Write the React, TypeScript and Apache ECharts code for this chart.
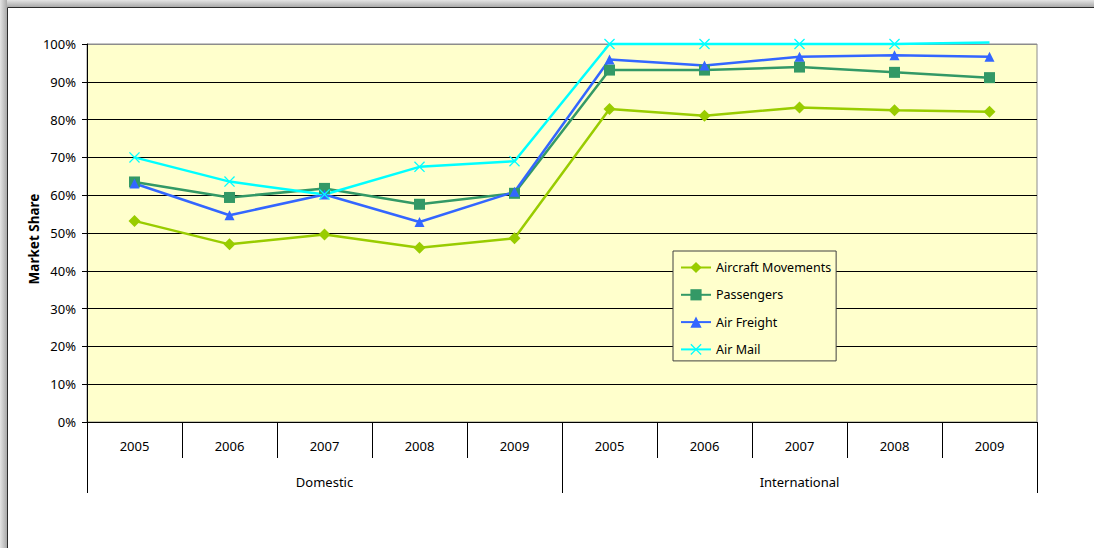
import React, { useEffect, useRef } from "react";
import * as echarts from "echarts";

const years = ["2005", "2006", "2007", "2008", "2009"];
const groups = ["Domestic", "International"];
const seriesNames = ["Aircraft Movements", "Passengers", "Air Freight", "Air Mail"];
const aircraftMovements = [53.2, 47.0, 49.6, 46.1, 48.6, 82.8, 81.0, 83.2, 82.5, 82.1];
const passengers = [63.5, 59.4, 61.8, 57.6, 60.5, 93.1, 93.1, 93.9, 92.5, 91.1];
const airFreight = [63.1, 54.7, 60.2, 52.9, 60.9, 95.9, 94.3, 96.6, 97.0, 96.6];
const airMail = [70.0, 63.6, 60.2, 67.5, 69.0, 100, 100, 100, 100, 100.4];
const hiddenMarkerIndex = 9; // Air Mail 2009 International marker falls outside plot
const yTicks = [0, 10, 20, 30, 40, 50, 60, 70, 80, 90, 100];

const FONT = "'Noto Sans', 'Open Sans', sans-serif";
const crossPath =
  "path://M0,1 L1,0 L6,5 L11,0 L12,1 L7,6 L12,11 L11,12 L6,7 L1,12 L0,11 L5,6 Z";

export default function App() {
  const ref = useRef<HTMLDivElement>(null);
  useEffect(() => {
    if (!ref.current) return;
    const chart = echarts.init(ref.current, null, { renderer: "svg" });
    const catKeys: string[] = [];
    groups.forEach((g) => years.forEach((y) => catKeys.push(g + "|" + y)));
    const splitColors = yTicks.map((t) => (t === 100 ? "#8c8c8c" : "#000000"));
    const mk = (name: string, data: any[], color: string, symbol: string, size: number) => ({
      name,
      type: "line",
      data,
      symbol,
      symbolSize: size,
      symbolKeepAspect: true,
      clip: false,
      lineStyle: { color, width: 2.5 },
      itemStyle: { color, borderWidth: 0 },
      emphasis: { disabled: true },
    });
    const option: any = {
      animation: false,
      backgroundColor: "#ffffff",
      textStyle: { fontFamily: FONT },
      graphic: [
        {
          type: "rect",
          shape: { x: 0, y: 0, width: 1094, height: 7 },
          style: {
            fill: new echarts.graphic.LinearGradient(0, 0, 0, 1, [
              { offset: 0, color: "#e4e4e4" },
              { offset: 1, color: "#a9a9a9" },
            ]),
          },
          silent: true,
        },
        {
          type: "rect",
          shape: { x: 0, y: 0, width: 7, height: 548 },
          style: {
            fill: new echarts.graphic.LinearGradient(0, 0, 1, 0, [
              { offset: 0, color: "#e4e4e4" },
              { offset: 1, color: "#a9a9a9" },
            ]),
          },
          silent: true,
        },
        {
          type: "polyline",
          shape: { points: [[7.5, 548], [7.5, 7.5], [1094, 7.5]] },
          style: { stroke: "#2b2b2b", lineWidth: 1, fill: null },
          silent: true,
        },
        {
          type: "text",
          x: 34,
          y: 239,
          rotation: Math.PI / 2,
          style: {
            text: "Market Share",
            fontFamily: FONT,
            fontSize: 13.5,
            fontWeight: "bold",
            fill: "#000",
            align: "center",
            verticalAlign: "middle",
          },
          silent: true,
        },
      ],
      grid: {
        left: 87,
        right: 57,
        top: 44,
        bottom: 126,
        show: true,
        backgroundColor: "#FFFFCC",
        borderColor: "#8c8c8c",
        borderWidth: 1,
      },
      legend: {
        orient: "vertical",
        left: 673,
        top: 251,
        itemWidth: 30,
        itemHeight: 14,
        itemGap: 14.3,
        padding: [10, 5, 5, 7],
        backgroundColor: "#FFFFCC",
        borderColor: "#404040",
        borderWidth: 1,
        data: seriesNames,
        textStyle: { fontFamily: FONT, fontSize: 12.5, color: "#000" },
      },
      xAxis: [
        {
          type: "category",
          data: catKeys,
          boundaryGap: true,
          axisLine: { show: true, lineStyle: { color: "#000", width: 1 } },
          axisTick: { show: true, interval: 0, length: 36, lineStyle: { color: "#000" } },
          axisLabel: {
            interval: 0,
            margin: 17,
            color: "#000",
            fontSize: 13,
            fontFamily: FONT,
            formatter: (v: string) => v.split("|")[1],
          },
        },
        {
          type: "category",
          data: groups,
          position: "bottom",
          offset: 36,
          boundaryGap: true,
          axisLine: { show: false },
          axisTick: { show: true, interval: 0, length: 35, lineStyle: { color: "#000" } },
          axisLabel: { interval: 0, margin: 17, color: "#000", fontSize: 13, fontFamily: FONT },
        },
      ],
      yAxis: {
        type: "value",
        min: 0,
        max: 100,
        interval: 10,
        axisLine: { show: true, lineStyle: { color: "#000" } },
        axisTick: { show: true, length: 5, lineStyle: { color: "#000" } },
        axisLabel: { formatter: "{value}%", margin: 11, color: "#000", fontSize: 13, fontFamily: FONT },
        splitLine: { show: true, lineStyle: { color: splitColors, width: 1 } },
      },
      series: [
        mk("Aircraft Movements", aircraftMovements, "#99CC00", "diamond", 12),
        mk("Passengers", passengers, "#339966", "rect", 11),
        mk("Air Freight", airFreight, "#3366FF", "triangle", 10),
        mk(
          "Air Mail",
          airMail.map((v, i) => (i === hiddenMarkerIndex ? { value: v, symbol: "none" } : v)),
          "#00FFFF",
          crossPath,
          11
        ),
      ],
    };
    chart.setOption(option);
    return () => chart.dispose();
  }, []);
  return (
    <div style={{ position: "absolute", left: 0, top: 0, width: 1094, height: 548 }}>
      <div ref={ref} style={{ width: 1094, height: 548 }} />
    </div>
  );
}
